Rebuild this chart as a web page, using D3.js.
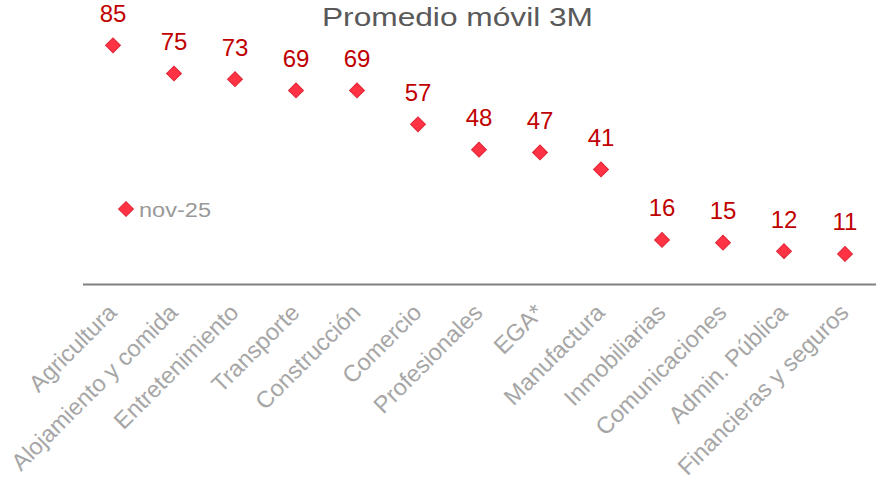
<!DOCTYPE html>
<html><head><meta charset="utf-8">
<script src="https://cdn.jsdelivr.net/npm/d3@7"></script>
<style>body{margin:0;background:#fff}svg{display:block;font-family:"Liberation Sans",Arial,sans-serif}</style>
</head><body><svg id="c" width="885" height="490"></svg>
<script>
const categories = ["Agricultura","Alojamiento y comida","Entretenimiento","Transporte","Construcción","Comercio","Profesionales","EGA*","Manufactura","Inmobiliarias","Comunicaciones","Admin. Pública","Financieras y seguros"];
const values = [85,75,73,69,69,57,48,47,41,16,15,12,11];
const seriesName = "nov-25";
const title = "Promedio móvil 3M";

const svg = d3.select("#c");
const x = d3.scaleBand().domain(categories).range([82.5, 875.5]);
const y = d3.scaleLinear().domain([0, 100]).range([285, 3]);

svg.append("text").attr("x", 322).attr("y", 26)
  .attr("font-size", 26.5).attr("fill", "#595959")
  .attr("textLength", 271).attr("lengthAdjust", "spacingAndGlyphs").text(title);

// axis
const ax = svg.append("g").attr("transform", `translate(0,${y(0) - 1})`).call(d3.axisBottom(x).tickSize(0).tickPadding(0));
ax.select(".domain").attr("stroke", "#808080").attr("stroke-width", 2);
ax.selectAll(".tick text").attr("font-size", 23.5).attr("fill", "#a6a6a6")
  .attr("font-family", '"Liberation Sans",Arial,sans-serif')
  .attr("text-anchor", "end").attr("dy", null).attr("y", 0)
  .attr("transform", "translate(5,30) rotate(-45)");

const diamond = d3.symbol().type(d3.symbolSquare).size(110);
const g = svg.append("g");
categories.forEach((c, i) => {
  const cx = x(c) + x.bandwidth()/2, cy = y(values[i]);
  g.append("path").attr("d", diamond()).attr("transform", `translate(${cx},${cy}) rotate(45)`)
    .attr("fill", "#ff3344").attr("stroke", "#e02535").attr("stroke-width", 1);
  g.append("text").attr("x", cx).attr("y", cy - 23.5).attr("text-anchor", "middle")
    .attr("font-size", 24).attr("fill", "#c00000").text(values[i]);
});

// legend
svg.append("path").attr("d", diamond()).attr("transform", "translate(126,209) rotate(45)")
  .attr("fill", "#ff3344").attr("stroke", "#e02535");
svg.append("text").attr("x", 139).attr("y", 217).attr("font-size", 20).attr("fill", "#999999")
  .attr("textLength", 72).attr("lengthAdjust", "spacingAndGlyphs").text(seriesName);
</script></body></html>
